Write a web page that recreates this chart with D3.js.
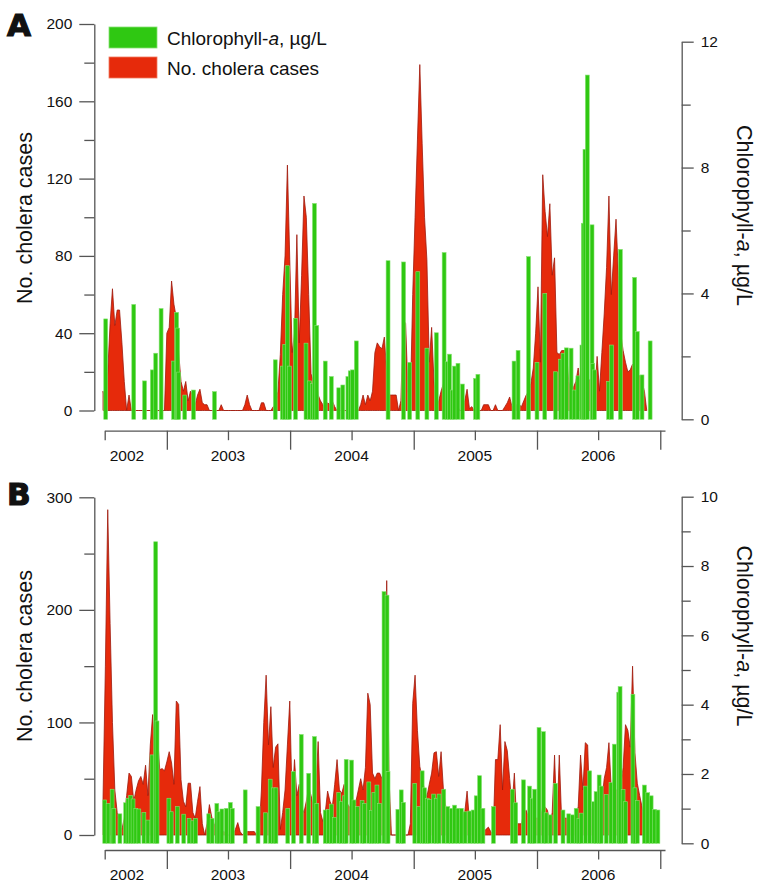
<!DOCTYPE html>
<html>
<head>
<meta charset="utf-8">
<script src="https://cdn.jsdelivr.net/npm/d3@7"></script>
<style>
  body { margin: 0; background: #fff; }
  svg text { font-family: "Liberation Sans", Arial, Helvetica, sans-serif; fill: #111; }
</style>
</head>
<body>
<svg id="chart" width="768" height="892"></svg>
<script>
// Weekly case counts start the last week of June 2002
const START = new Date(2002, 5, 26);
const weekDate = w => d3.timeDay.offset(START, Math.round(w * 7));

// Panel A - weekly cholera cases
const casesA = [
  10, 4, 20, 45, 63, 44, 52, 52, 35, 15,
  0, 8, 0, 0, 0, 0, 0, 0, 0, 0,
  0, 0, 0, 0, 0, 0, 0, 40, 43, 67,
  55, 48, 30, 15, 10, 15, 5, 10, 8, 3,
  8, 11, 4, 3, 3, 0, 0, 0, 0, 0,
  3, 0, 0, 0, 0, 0, 0, 0, 0, 0,
  3, 8, 3, 0, 0, 0, 0, 4, 4, 0,
  0, 0, 2, 3, 10, 29, 60, 80, 127, 78,
  30, 40, 91, 35, 70, 111, 100, 60, 19, 15,
  19, 8, 5, 3, 0, 4, 3, 5, 2, 0,
  0, 0, 0, 0, 0, 0, 0, 0, 0, 3,
  8, 3, 8, 5, 10, 30, 35, 33, 32, 38,
  20, 8, 8, 8, 8, 0, 5, 47, 45, 10,
  5, 60, 100, 140, 179, 138, 100, 78, 25, 43,
  15, 2, 5, 10, 14, 10, 5, 5, 3, 3,
  2, 0, 0, 5, 11, 1, 2, 0, 0, 0,
  0, 3, 3, 3, 0, 0, 3, 0, 0, 0,
  2, 4, 7, 2, 2, 3, 3, 2, 5, 8,
  10, 14, 22, 40, 64, 25, 122, 103, 90, 107,
  70, 79, 30, 29, 31, 31, 31, 15, 10, 12,
  15, 22, 10, 8, 12, 15, 16, 17, 8, 28,
  10, 30, 50, 74, 111, 60, 80, 99, 70, 40,
  31, 25, 20, 21, 24, 22, 19, 18, 15, 10,
  0
];
// Panel A - chlorophyll samples (week index, µg/L)
const chlWeeksA = [
  1.1, 13, 17.6, 20.9, 22.3, 24.5, 29.9, 31.1, 31.6, 32.0, 34.5, 38.3, 47.2,
  72.8, 75.8, 76.9, 78.0, 78.9, 81.4, 85.9, 87.3, 88.5, 89.4, 90.4, 94.0, 96.6, 99.7, 101.4, 103.5, 104.5, 105.6, 107.1,
  120.5, 127.1, 129.7, 133.2, 137.0, 141.0, 144.3, 145.6, 146.6, 147.7, 148.7, 150.2, 152.0, 157.6, 158.6,
  173.8, 175.5, 180.0, 183.5, 186.8, 191.4, 193.5, 194.6, 196.0, 198.0, 199.3, 200.8, 202.6, 203.2, 203.9, 204.8, 206.8, 207.2, 207.9,
  213.9, 215.2, 218.9, 224.8, 226.0, 228.0, 231.4
];
const chlA = [
  3.19, 3.65, 1.22, 1.57, 2.1, 3.52, 1.85, 3.4, 2.9, 1.5, 0.77, 0.93, 0.88,
  1.89, 1.69, 2.38, 4.88, 1.69, 3.21, 2.42, 1.22, 1.14, 6.86, 2.98, 1.85, 1.36, 1.0, 1.09, 1.36, 1.54, 1.57, 2.49,
  5.04, 5.0, 1.81, 4.69, 2.26, 2.75, 5.3, 1.83, 2.07, 0.93, 1.69, 1.78, 1.12, 1.3, 1.43,
  1.85, 2.19, 5.17, 1.81, 4.0, 1.51, 1.91, 2.1, 2.27, 2.26, 0.93, 1.38, 2.36, 6.23, 8.58, 10.94, 6.18, 1.78, 1.57,
  1.2, 2.36, 5.4, 4.51, 2.79, 1.41, 2.49
];

// Panel B - weekly cholera cases
const casesB = [
  31, 150, 289, 188, 100, 40, 20, 8, 5, 15,
  35, 55, 52, 30, 40, 48, 52, 45, 62, 35,
  80, 107, 70, 90, 58, 59, 57, 65, 74, 64,
  45, 119, 116, 49, 30, 25, 46, 46, 20, 15,
  30, 43, 10, 0, 10, 27, 16, 10, 5, 5,
  3, 3, 2, 0, 0, 0, 5, 11, 3, 0,
  3, 3, 3, 3, 3, 0, 0, 40, 100, 142,
  80, 114, 60, 78, 81, 5, 20, 40, 80, 119,
  30, 67, 35, 45, 25, 20, 30, 43, 35, 25,
  40, 83, 20, 12, 20, 39, 30, 25, 45, 67,
  40, 37, 45, 30, 25, 25, 20, 30, 40, 50,
  40, 60, 126, 116, 55, 50, 55, 55, 50, 60,
  226, 50, 0, 0, 0, 0, 0, 0, 0, 0,
  10, 117, 142, 93, 61, 50, 40, 34, 45, 55,
  73, 74, 52, 74, 40, 25, 20, 13, 12, 10,
  15, 17, 17, 20, 39, 13, 15, 13, 13, 13,
  8, 3, 5, 7, 3, 0, 67, 67, 98, 40,
  83, 75, 50, 25, 55, 10, 10, 10, 20, 22,
  15, 10, 15, 15, 15, 15, 25, 25, 22, 10,
  20, 71, 10, 71, 13, 15, 15, 13, 13, 15,
  18, 25, 71, 40, 82, 80, 15, 25, 28, 25,
  22, 30, 50, 60, 82, 40, 40, 40, 40, 45,
  60, 98, 93, 78, 150, 73, 46, 35, 25, 10,
  0
];
// Panel B - chlorophyll samples (week index, µg/L)
const chlWeeksB = [
  0.7, 2.1, 3.8, 4.5, 7.1, 9.5, 10.6, 11.7, 12.7, 13.8, 15.2, 17.3, 19.0, 20.7, 22.3, 22.8, 27.8, 28.9, 31.4, 34.2, 36.4, 38.0, 39.2,
  44.7, 46.2, 48.2, 49.0, 50.3, 52.1, 53.9, 54.7, 60.2, 65.5, 68.7, 70.7, 72.1, 73.2, 78.2, 80.6, 83.8, 87.0, 89.4, 90.4,
  94.0, 95.4, 96.5, 97.9, 99.7, 100.9, 102.1, 102.8, 105.2, 106.2, 107.5, 109.6, 110.6, 112.4, 113.5, 114.5, 115.8, 117.0, 118.8, 120.2, 120.5, 124.7, 126.1, 127.1,
  131.8, 133.5, 135.0, 136.0, 137.1, 138.1, 139.9, 141.0, 142.1, 144.2, 145.9, 147.3, 148.7, 150.1, 151.5, 153.2, 155.0, 156.5, 157.9, 159.3, 160.7, 165.2, 173.1, 174.5, 177.9, 180.4, 181.5, 182.5,
  184.4, 186.3, 187.4, 189.1, 191.4, 194.5, 197.0, 198.5, 200.1, 201.3, 202.3, 204.1, 205.8, 207.5, 208.6, 209.8, 210.7, 212.8, 214.9, 216.3, 218.2, 218.7, 220.0, 221.0, 224.1, 225.0, 226.0, 229.0, 230.4, 231.8, 233.3, 234.7
];
const chlB = [
  1.25, 1.15, 1.56, 1.01, 0.85, 1.17, 1.3, 1.38, 1.28, 1.01, 0.99, 0.89, 0.67, 2.55, 8.7, 3.53, 1.3, 0.91, 1.06, 0.84, 0.72, 0.65, 0.72,
  0.85, 0.72, 1.15, 0.91, 0.99, 1.01, 1.18, 1.01, 1.54, 1.06, 0.88, 1.85, 1.6, 1.6, 1.01, 2.07, 3.14, 2.02, 3.08, 1.15,
  0.96, 0.98, 1.13, 0.75, 1.46, 1.2, 1.37, 2.42, 2.4, 1.25, 1.06, 1.23, 1.15, 1.77, 0.95, 1.47, 1.68, 1.15, 7.26, 7.16, 2.07, 0.98, 1.54, 1.18,
  1.73, 1.06, 2.09, 1.6, 1.3, 1.27, 1.42, 1.3, 1.42, 1.56, 1.06, 1.01, 1.1, 1.01, 1.01, 0.91, 0.93, 0.96, 1.37, 1.95, 1.01, 1.06, 1.56, 1.17, 1.83, 1.65, 1.3, 1.56,
  3.34, 3.22, 0.88, 0.82, 1.73, 0.96, 0.85, 0.82, 1.01, 0.72, 0.87, 1.65, 2.09, 1.2, 1.49, 1.97, 1.65, 1.41, 1.75, 2.86, 4.36, 4.52, 1.55, 1.2, 4.3, 1.6, 1.23, 1.68, 1.46, 1.37, 0.98, 0.96
];

// Time axis ticks and labels
const yearStarts = [new Date(2003, 0, 1), new Date(2004, 0, 1), new Date(2005, 0, 1), new Date(2006, 0, 1), new Date(2007, 0, 1)];
const midYears = [new Date(2002, 6, 1), new Date(2003, 6, 1), new Date(2004, 6, 1), new Date(2005, 6, 1), new Date(2006, 6, 1)];
const yearLabels = ['2002', '2003', '2004', '2005', '2006'];
const yearLabelDates = [new Date(2002, 8, 5), new Date(2003, 6, 1), new Date(2004, 6, 1), new Date(2005, 6, 1), new Date(2006, 6, 1)];

const RED = '#e62a0b';
const RED_EDGE = '#9e1a0e';
const GREEN = '#2fc812';
const GREEN_EDGE = '#86e272';
const AXIS = '#555';

const svg = d3.select('#chart');

// Shared time scale (axis line runs a little past the last year tick)
const x = d3.scaleTime()
    .domain([new Date(2002, 6, 1), new Date(2007, 0, 15)])
    .range([104.7, 665]);

function styleAxis(g, fontSize) {
    g.selectAll('path, line').attr('stroke', AXIS).attr('stroke-width', 1.3);
    g.selectAll('text').style('font-size', fontSize + 'px').attr('fill', '#111');
}

function drawPanel(o) {
    const g = svg.append('g');

    const yL = d3.scaleLinear().domain([0, o.casesMax]).range([o.caseBase, o.caseTop]);
    const yR = d3.scaleLinear().domain([0, o.chlMax]).range([o.chlBase, o.chlTop]);

    // Cholera cases as a filled area
    const area = d3.area()
        .x((d, i) => x(weekDate(i)))
        .y0(yL(0))
        .y1(d => yL(d));

    g.append('path')
        .datum(o.cases)
        .attr('d', area)
        .attr('fill', RED)
        .attr('stroke', RED_EDGE)
        .attr('stroke-width', 0.8)
        .attr('stroke-linejoin', 'miter');

    // Chlorophyll bars on the right scale
    const barW = 3.9;
    g.append('g')
        .selectAll('rect')
        .data(o.chlWeeks)
        .join('rect')
        .attr('x', w => x(weekDate(w)) - barW / 2)
        .attr('y', (w, i) => yR(o.chl[i]))
        .attr('width', barW)
        .attr('height', (w, i) => yR(0) - yR(o.chl[i]))
        .attr('fill', GREEN)
        .attr('stroke', GREEN_EDGE)
        .attr('stroke-width', 0.6);

    // Left axis: labelled and minor ticks
    const left = g.append('g').attr('transform', 'translate(94.3,0)')
        .call(d3.axisLeft(yL).tickValues(o.leftMajor).tickSize(15).tickPadding(7).tickSizeOuter(0));
    styleAxis(left, 15.5);
    const leftMinor = g.append('g').attr('transform', 'translate(94.3,0)')
        .call(d3.axisLeft(yL).tickValues(o.leftMinor).tickSize(10).tickFormat(''));
    leftMinor.select('.domain').remove();
    styleAxis(leftMinor, 15.5);

    // Right axis
    const right = g.append('g').attr('transform', 'translate(681.7,0)')
        .call(d3.axisRight(yR).tickValues(o.rightMajor).tickSize(12).tickPadding(7).tickSizeOuter(0));
    styleAxis(right, 15.5);
    const rightMinor = g.append('g').attr('transform', 'translate(681.7,0)')
        .call(d3.axisRight(yR).tickValues(o.rightMinor).tickSize(9).tickFormat(''));
    rightMinor.select('.domain').remove();
    styleAxis(rightMinor, 15.5);

    // Bottom time axis: long ticks at year starts, short at mid-year
    const bottom = g.append('g').attr('transform', `translate(0,${o.axisY})`)
        .call(d3.axisBottom(x).tickValues(yearStarts).tickSize(19).tickFormat('').tickSizeOuter(0));
    styleAxis(bottom, 15.5);
    const bottomMid = g.append('g').attr('transform', `translate(0,${o.axisY})`)
        .call(d3.axisBottom(x).tickValues(midYears).tickSize(9.5).tickFormat(''));
    bottomMid.select('.domain').remove();
    styleAxis(bottomMid, 15.5);

    g.append('g')
        .selectAll('text')
        .data(yearLabels)
        .join('text')
        .attr('x', (d, i) => x(yearLabelDates[i]))
        .attr('y', o.axisY + 30)
        .attr('text-anchor', 'middle')
        .style('font-size', '15.5px')
        .text(d => d);

    // Axis titles
    g.append('text')
        .attr('transform', `translate(32,${o.leftTitleY}) rotate(-90)`)
        .attr('text-anchor', 'middle')
        .style('font-size', '21.5px')
        .text('No. cholera cases');

    const rt = g.append('text')
        .attr('transform', `translate(737,${o.rightTitleY}) rotate(90)`)
        .attr('text-anchor', 'middle')
        .style('font-size', '21.5px');
    rt.append('tspan').text('Chlorophyll-');
    rt.append('tspan').style('font-style', 'italic').text('a');
    rt.append('tspan').text(', µg/L');

    // Panel letter
    g.append('text')
        .attr('x', 7)
        .attr('y', o.letterY)
        .style('font-family', '"DejaVu Sans", sans-serif')
        .style('font-weight', 'bold')
        .style('font-size', '31px')
        .attr('stroke', '#111')
        .attr('stroke-width', 1.2)
        .text(o.letter);
}

drawPanel({
    letter: 'A', letterY: 36,
    cases: casesA, chlWeeks: chlWeeksA, chl: chlA,
    casesMax: 200, caseBase: 410.5, caseTop: 24,
    leftMajor: [0, 40, 80, 120, 160, 200], leftMinor: [20, 60, 100, 140, 180],
    chlMax: 12, chlBase: 419.3, chlTop: 41.7,
    rightMajor: [0, 4, 8, 12], rightMinor: [2, 6, 10],
    axisY: 430.7, leftTitleY: 218, rightTitleY: 215.5
});

drawPanel({
    letter: 'B', letterY: 505,
    cases: casesB, chlWeeks: chlWeeksB, chl: chlB,
    casesMax: 300, caseBase: 835, caseTop: 497.3,
    leftMajor: [0, 100, 200, 300], leftMinor: [50, 150, 250],
    chlMax: 10, chlBase: 843.3, chlTop: 496.7,
    rightMajor: [0, 2, 4, 6, 8, 10], rightMinor: [1, 3, 5, 7, 9],
    axisY: 850, leftTitleY: 656, rightTitleY: 636
});

// Legend (panel A)
const legendItems = [
    { fill: GREEN, edge: GREEN_EDGE, label: 'chl' },
    { fill: RED, edge: '#f07a60', label: 'cases' }
];
const legend = svg.append('g').attr('transform', 'translate(109,27)');
legendItems.forEach((item, i) => {
    const row = legend.append('g').attr('transform', `translate(0,${i * 30})`);
    row.append('rect')
        .attr('width', 48)
        .attr('height', 21)
        .attr('fill', item.fill)
        .attr('stroke', item.edge)
        .attr('stroke-width', 0.8);
    const t = row.append('text')
        .attr('x', 58)
        .attr('y', 18)
        .style('font-size', '19px');
    if (item.label === 'chl') {
        t.append('tspan').text('Chlorophyll-');
        t.append('tspan').style('font-style', 'italic').text('a');
        t.append('tspan').text(', µg/L');
    } else {
        t.text('No. cholera cases');
    }
});
</script>
</body>
</html>
